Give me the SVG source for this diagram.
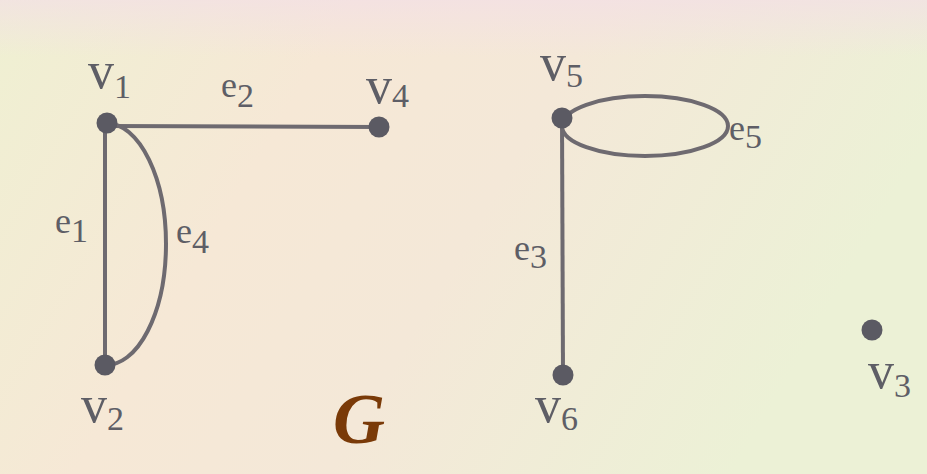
<svg xmlns="http://www.w3.org/2000/svg" width="927" height="474" viewBox="0 0 927 474">
<defs>
<linearGradient id="bg" x1="0" y1="0" x2="1" y2="0.3">
<stop offset="0" stop-color="#eff0d2"/>
<stop offset="0.35" stop-color="#f6e8d6"/>
<stop offset="0.6" stop-color="#f4e8d8"/>
<stop offset="1" stop-color="#ecf1d6"/>
</linearGradient>
<linearGradient id="top" x1="0" y1="0" x2="0" y2="1">
<stop offset="0" stop-color="#f3dfe6" stop-opacity="0.7"/>
<stop offset="0.12" stop-color="#f3dfe6" stop-opacity="0"/>
</linearGradient>
<style>
.edge{fill:none;stroke:#6e6a70;stroke-width:4}
.dot{fill:#5b5a63}
.lbl{font-family:"Liberation Serif","Times New Roman",serif;fill:#5e5e66}
.big{font-size:52px}
.sub{font-size:34px}
.e{font-size:36px}
</style>
</defs>
<rect width="927" height="474" fill="url(#bg)"/>
<rect width="927" height="474" fill="url(#top)"/>
<g id="connectors">
<line id="e1" class="edge" x1="105" y1="123" x2="105" y2="365"/>
<line id="e2" class="edge" x1="107" y1="126" x2="379" y2="127" stroke-width="5"/>
<path id="e4" class="edge" d="M107,123 A60 121 0 0 1 105,365"/>
<line id="e3" class="edge" x1="562" y1="118" x2="563" y2="375" stroke-width="5"/>
<ellipse id="e5" class="edge" cx="645" cy="126" rx="83" ry="30" stroke-width="3.5"/>
</g>
<g id="edge-labels" class="lbl">
<text x="221" y="97"><tspan class="e">e</tspan><tspan class="sub" dy="10">2</tspan></text>
<text x="55" y="233"><tspan class="e">e</tspan><tspan class="sub" dy="9">1</tspan></text>
<text x="176" y="243"><tspan class="e">e</tspan><tspan class="sub" dy="10">4</tspan></text>
<text x="514" y="260"><tspan class="e">e</tspan><tspan class="sub" dy="8">3</tspan></text>
<text x="729" y="140"><tspan class="e">e</tspan><tspan class="sub" dy="8">5</tspan></text>
</g>
<g id="v1"><circle class="dot" cx="107" cy="123" r="10.5"/><text class="lbl" x="88" y="88"><tspan class="big">v</tspan><tspan class="sub" dy="10">1</tspan></text></g>
<g id="v2"><circle class="dot" cx="105" cy="365" r="10.5"/><text class="lbl" x="81" y="422"><tspan class="big">v</tspan><tspan class="sub" dy="8">2</tspan></text></g>
<g id="v3"><circle class="dot" cx="872" cy="330" r="10.5"/><text class="lbl" x="868" y="388"><tspan class="big">v</tspan><tspan class="sub" dy="9">3</tspan></text></g>
<g id="v4"><circle class="dot" cx="379" cy="127" r="10.5"/><text class="lbl" x="366" y="103"><tspan class="big">v</tspan><tspan class="sub" dy="4">4</tspan></text></g>
<g id="v5"><circle class="dot" cx="562" cy="118" r="10.5"/><text class="lbl" x="540" y="80"><tspan class="big">v</tspan><tspan class="sub" dy="7">5</tspan></text></g>
<g id="v6"><circle class="dot" cx="563" cy="375" r="10.5"/><text class="lbl" x="535" y="422"><tspan class="big">v</tspan><tspan class="sub" dy="8">6</tspan></text></g>
<g id="title"><text x="333" y="443" font-family="Liberation Serif, Times New Roman, serif" font-size="72" font-weight="bold" font-style="italic" fill="#7a3a08">G</text></g>
</svg>
